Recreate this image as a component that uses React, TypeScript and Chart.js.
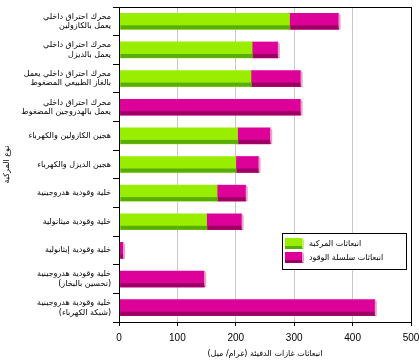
import React, { useEffect, useRef } from "react";
import { Chart, registerables } from "chart.js";

Chart.register(...registerables);

const categories: (string | string[])[] = [
  ["محرك احتراق داخلي", "يعمل بالكازولين"],
  ["محرك احتراق داخلي", "يعمل بالديزل"],
  ["محرك احتراق داخلي يعمل", "بالغاز الطبيعي المضغوط"],
  ["محرك احتراق داخلي", "يعمل بالهدروجين المضغوط"],
  "هجين الكازولين والكهرباء",
  "هجين الديزل والكهرباء",
  "خلية وقودية هدروجينية",
  "خلية وقودية ميثانولية",
  "خلية وقودية إيثانولية",
  ["خلية وقودية هدروجينية", "(تحسين بالبخار)"],
  ["خلية وقودية هدروجينية", "(شبكة الكهرباء)"],
];

const vehicleEmissions = [292, 228, 226, 0, 203, 200, 168, 150, 0, 0, 0];
const fuelChainEmissions = [84, 44, 85, 311, 56, 39, 49, 60, 7, 146, 438];

const seriesLabels = ["انبعاثات المركبة", "انبعاثات سلسلة الوقود"];
const xTitle = "انبعاثات غازات الدفيئة (غرام/ ميل)";
const yTitle = "نوع المركبة";

const mainColors = ["#99ee00", "#dd0099"];
const darkColors = ["#58ad08", "#9c0062"];
const sideColors = ["#c4f06e", "#e9a2c8"];

const FONT = "'DejaVu Sans', sans-serif";

const bar3d = {
  id: "bar3d",
  afterDatasetsDraw(chart: any) {
    const ctx = chart.ctx;
    const n = chart.data.labels.length;
    const lastIdx: number[] = new Array(n).fill(-1);
    chart.data.datasets.forEach((ds: any, di: number) => {
      ds.data.forEach((v: number, i: number) => {
        if (v > 0) lastIdx[i] = di;
      });
    });
    ctx.save();
    chart.data.datasets.forEach((ds: any, di: number) => {
      const meta = chart.getDatasetMeta(di);
      meta.data.forEach((el: any) => {
        const p = el.getProps(["x", "y", "base", "height"], true);
        const left = Math.min(p.x, p.base);
        const right = Math.max(p.x, p.base);
        if (right - left < 0.5) return;
        const bottom = p.y + p.height / 2;
        ctx.fillStyle = darkColors[di];
        ctx.fillRect(left + 1, bottom - 4, right - left, 4);
      });
    });
    chart.data.datasets.forEach((ds: any, di: number) => {
      const meta = chart.getDatasetMeta(di);
      meta.data.forEach((el: any, i: number) => {
        if (lastIdx[i] !== di) return;
        const p = el.getProps(["x", "y", "base", "height"], true);
        const right = Math.max(p.x, p.base);
        const top = p.y - p.height / 2;
        const bottom = p.y + p.height / 2;
        ctx.fillStyle = sideColors[di];
        ctx.beginPath();
        ctx.moveTo(right, top);
        ctx.lineTo(right + 2, top + 2);
        ctx.lineTo(right + 2, bottom);
        ctx.lineTo(right + 1, bottom);
        ctx.lineTo(right, bottom - 1);
        ctx.closePath();
        ctx.fill();
      });
    });
    ctx.restore();
  },
  afterDraw(chart: any) {
    const ctx = chart.ctx;
    const a = chart.chartArea;
    ctx.save();
    ctx.strokeStyle = "#000";
    ctx.lineWidth = 1;
    ctx.strokeRect(Math.round(a.left) + 0.5, Math.round(a.top) + 0.5, Math.round(a.right - a.left), Math.round(a.bottom - a.top));

    // legend
    const bx = Math.round(a.right) - 129;
    const by = Math.round(a.top) + 226;
    const bw = 124;
    const bh = 36;
    ctx.fillStyle = "#fff";
    ctx.fillRect(bx, by, bw, bh);
    ctx.strokeRect(bx + 0.5, by + 0.5, bw, bh);
    ctx.font = `8px ${FONT}`;
    ctx.textBaseline = "middle";
    ctx.textAlign = "left";
    chart.data.datasets.forEach((ds: any, di: number) => {
      const sx = bx + 3;
      const sy = by + 5 + di * 14;
      const sw = 17;
      const sh = 11;
      ctx.fillStyle = mainColors[di];
      ctx.fillRect(sx, sy, sw, sh - 3);
      ctx.fillStyle = darkColors[di];
      ctx.fillRect(sx, sy + sh - 3, sw + 1, 3);
      ctx.fillStyle = sideColors[di];
      ctx.beginPath();
      ctx.moveTo(sx + sw, sy);
      ctx.lineTo(sx + sw + 2, sy + 2);
      ctx.lineTo(sx + sw + 2, sy + sh);
      ctx.lineTo(sx + sw + 1, sy + sh);
      ctx.lineTo(sx + sw, sy + sh - 1);
      ctx.closePath();
      ctx.fill();
      ctx.fillStyle = "#000";
      ctx.fillText(ds.label, bx + 27, sy + sh / 2);
    });
    ctx.restore();
  },
};

export default function App() {
  const ref = useRef<HTMLCanvasElement>(null);
  useEffect(() => {
    if (!ref.current) return;
    const chart = new Chart(ref.current, {
      type: "bar",
      data: {
        labels: categories,
        datasets: [
          {
            label: seriesLabels[0],
            data: vehicleEmissions,
            backgroundColor: mainColors[0],
            borderWidth: 0,
            barThickness: 16,
          },
          {
            label: seriesLabels[1],
            data: fuelChainEmissions,
            backgroundColor: mainColors[1],
            borderWidth: 0,
            barThickness: 16,
          },
        ],
      },
      options: {
        indexAxis: "y",
        responsive: false,
        animation: false,
        layout: { padding: { top: 7, right: 8, left: 0, bottom: 0 } },
        plugins: {
          legend: { display: false },
          tooltip: { enabled: false },
        },
        scales: {
          x: {
            stacked: true,
            min: 0,
            max: 500,
            ticks: {
              stepSize: 100,
              color: "#000",
              font: { family: "'Liberation Sans', Arial, sans-serif", size: 10 },
              padding: 6,
            },
            grid: {
              color: "#c8c8c8",
              tickColor: "#000",
              tickLength: 4,
            },
            border: { color: "#000" },
            title: {
              display: true,
              text: xTitle,
              color: "#000",
              font: { family: FONT, size: 8 },
              padding: { top: 0, bottom: 3 },
            },
            afterFit: (s: any) => {
              s.height = 40;
              s.paddingLeft = 0;
              s.paddingRight = 0;
            },
          },
          y: {
            stacked: true,
            ticks: {
              color: "#000",
              font: { family: FONT, size: 8 },
              padding: 2,
            },
            grid: {
              offset: true,
              drawOnChartArea: false,
              tickColor: "#000",
              tickLength: 6,
            },
            border: { color: "#000" },
            title: {
              display: true,
              text: yTitle,
              color: "#000",
              font: { family: FONT, size: 8 },
              padding: { top: 2, bottom: 0 },
            },
            afterFit: (s: any) => {
              s.width = 119;
              s.paddingTop = 0;
              s.paddingBottom = 0;
            },
          },
        },
      },
      plugins: [bar3d],
    });
    return () => chart.destroy();
  }, []);
  return (
    <div style={{ position: "fixed", left: 0, top: 0, width: 419, height: 362, background: "#fff" }}>
      <canvas ref={ref} width={419} height={362} />
    </div>
  );
}
